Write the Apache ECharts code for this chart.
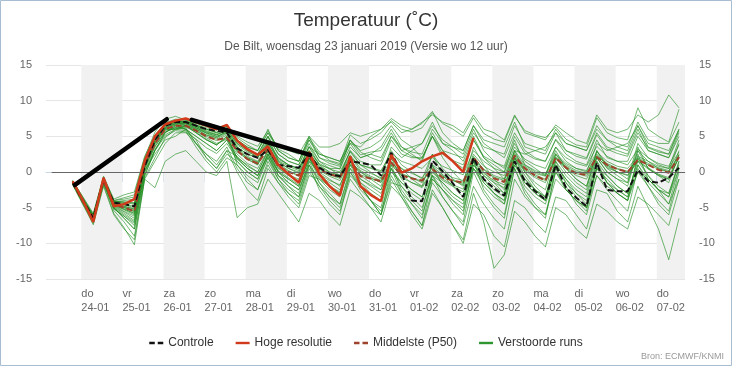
<!DOCTYPE html>
<html><head><meta charset="utf-8">
<script src="https://cdn.jsdelivr.net/npm/echarts@6/dist/echarts.min.js"></script>
<style>html,body{margin:0;padding:0;background:#fff}#c{width:732px;height:366px}</style>
</head><body><div id="c"></div>
<script>
// time axis: hours relative to 24-01 00:00 (local)
const hours = [-5,1,7,13,19,25,31,37,43,49,55,61,67,73,79,85,91,97,103,109,115,121,127,133,139,145,151,157,163,169,175,181,187,193,199,205,211,217,223,229,235,241,247,253,259,265,271,277,283,289,295,301,307,313,319,325,331,337,343,349];
const dayTicks = [0,24,48,72,96,120,144,168,192,216,240,264,288,312,336];
const dayNames = ['do','vr','za','zo','ma','di','wo','do','vr','za','zo','ma','di','wo','do'];
const dayDates = ['24-01','25-01','26-01','27-01','28-01','29-01','30-01','31-01','01-02','02-02','03-02','04-02','05-02','06-02','07-02'];
const bandStarts = [0,48,96,144,192,240,288,336];
const yTicks = [-15,-10,-5,0,5,10,15];

const controle = [-1.5,-4.0,-6.5,-1.0,-4.3,-4.5,-4.8,0.8,4.5,6.5,7.0,7.0,6.5,6.0,5.8,5.5,
 3.3,2.5,2.0,3.1,1.0,0.8,0.6,2.4,0.6,-0.3,-0.6,1.5,1.3,1.0,-0.5,2.7,
 -0.1,-4.0,-4.1,1.6,0.1,-1.6,-3.5,2.0,-1.0,-2.3,-3.3,1.5,-1.3,-2.7,-3.9,1.0,
 -2.2,-3.6,-4.8,1.3,-2.5,-2.7,-2.7,0.3,-1.3,-1.5,-0.8,0.6];
const hogeResolutie = [-1.3,-4.0,-7.0,-0.8,-4.8,-4.5,-3.8,1.5,5.0,6.7,7.2,7.5,7.0,6.5,6.0,6.6,
 4.4,3.2,2.4,3.6,1.0,-0.3,-1.5,2.8,-0.3,-2.0,-3.3,2.2,-2.0,-3.2,-4.1,2.4,
 -0.1,0.5,1.5,2.2,2.7,1.5,0.0,4.8];
const middelste = [-1.5,-4.2,-6.3,-1.2,-4.5,-5.0,-5.5,1.0,4.0,6.0,6.5,6.5,5.8,5.0,4.5,4.8,
 3.0,1.8,1.2,3.2,0.8,0.0,-0.5,2.2,0.3,-0.3,-0.7,1.7,-0.6,-0.9,-1.3,1.3,
 -0.5,-0.9,-1.2,0.4,-0.8,-1.2,-1.5,2.0,0.2,-0.9,-1.4,2.3,0.5,-0.5,-1.2,2.0,
 0.6,-0.2,-0.4,2.1,1.0,0.4,0.0,1.7,1.0,0.3,-0.1,2.1];

const run01 = [-1.2,-3.5,-5.8,-0.6,-3.8,-3.2,-2.8,2.2,5.2,6.8,7.2,7.0,6.5,6.0,5.5,6.2, 5.0,4.2,3.6,5.8, 3.2,2.5,1.5,4.8, 2.8,1.6,1.2,5.2, 4.0,4.6,5.5,7.2, 6.0,5.6,6.2,8.3, 6.8,6.0,5.0,7.6, 5.4,4.6,4.2,7.8, 5.8,5.2,4.8,6.3, 4.6,3.8,3.5,7.6, 5.5,4.8,4.5,9.0, 6.0,5.0,4.2,8.8];
const run02 = [-1.4,-4.2,-6.8,-1.0,-4.6,-5.2,-5.8,0.8,4.2,6.2,6.8,6.8,6.2,5.5,5.0,5.6, 3.2,2.0,1.4,3.5, 0.9,0.1,-0.6,2.4, 0.4,-0.4,-0.9,1.9, -0.4,-0.9,-1.4,1.4, -0.4,-0.8,-1.3,0.6, -0.6,-1.2,-1.6,2.2, 0.3,-0.7,-1.2,2.4, 0.6,-0.4,-1.0,2.1, 0.8,0.0,-0.3,2.3, 1.2,0.5,0.1,1.8, 1.0,0.4,0.0,2.3];
const run03 = [-1.5,-4.3,-6.5,-1.3,-4.4,-4.8,-5.2,1.2,4.8,6.0,6.0,6.5,5.5,4.5,3.8,5.0, 2.8,1.8,1.0,4.2, 1.6,0.8,0.2,3.6, 1.5,0.9,0.4,4.4, 2.4,2.8,3.0,5.5, 3.0,2.2,1.8,5.0, 2.5,1.6,1.0,4.5, 2.2,1.4,0.8,5.0, 2.6,1.8,1.5,4.6, 3.0,2.2,1.8,5.2, 3.2,2.6,2.2,5.5, 3.4,2.8,2.5,5.8];
const run04 = [-1.8,-4.5,-7.2,-1.8,-5.8,-7.8,-10.2,-1.0,1.5,4.0,5.5,5.5,4.0,2.5,1.5,3.5, 0.5,-1.5,-2.5,1.0, -1.5,-3.0,-4.0,0.5, -2.0,-3.5,-4.5,0.0, -2.5,-4.0,-5.5,-0.5, -3.0,-4.5,-6.0,-1.5, -3.5,-5.5,-7.5,-2.0, -4.5,-6.5,-8.0,-1.0, -3.5,-5.0,-6.5,0.5, -2.5,-4.0,-5.0,1.5, -1.5,-3.0,-4.0,2.5, -1.0,-2.5,-3.5,1.5];
const run05 = [-1.6,-4.0,-6.0,-1.5,-5.0,-6.5,-8.0,-0.5,3.0,5.5,6.5,6.0,5.0,4.0,3.0,4.5, 1.5,0.0,-1.0,2.5, -0.5,-2.0,-3.0,1.5, -1.5,-3.0,-4.5,0.5, -2.0,-4.0,-6.0,-1.0, -3.5,-5.5,-7.5,-2.5, -5.0,-7.5,-9.5,-3.0, -7.0,-13.5,-11.6,-5.5, -7.0,-9.0,-10.5,-5.0, -6.0,-8.0,-9.3,-4.5, -5.5,-7.0,-8.0,-3.5, -4.5,-6.0,-7.5,-2.5];
const run06 = [-1.7,-4.1,-6.6,-1.1,-4.9,-5.8,-6.8,0.2,2.5,4.5,5.0,6.0,4.5,2.0,0.5,3.0, 0.0,-2.5,-4.0,0.5, -1.5,-3.5,-5.0,-0.5, -1.0,-2.5,-3.5,1.0, -0.5,-1.5,-2.5,2.0, 0.5,-1.0,-2.0,2.5, -0.5,-2.0,-3.5,1.5, -1.5,-3.0,-4.5,1.0, -1.0,-2.5,-3.5,2.0, 0.0,-1.5,-2.5,3.0, 0.5,-0.5,-1.5,3.5, 0.5,-0.5,-1.0,3.0];
const run07 = [-1.4,-4.1,-6.7,-0.9,-4.5,-5.0,-5.5,1.0,4.5,6.5,7.0,7.2,6.5,6.0,5.5,6.0, 4.0,3.0,2.5,5.0, 2.5,1.5,1.0,4.0, 1.5,0.5,-0.5,3.0, 1.0,0.0,-1.0,3.5, 2.0,3.0,4.0,6.5, 4.5,3.5,2.5,6.0, 3.0,1.5,0.5,4.0, 1.5,0.5,-0.5,3.0, 0.5,-1.0,-2.0,2.0, 0.0,-1.0,-1.5,3.0, 1.5,0.5,0.0,4.0];
const run08 = [-1.6,-4.0,-6.0,-1.5,-5.0,-6.5,-8.0,-0.5,3.0,5.5,6.5,6.0,5.0,4.0,3.0,4.5, 2.0,1.0,0.0,3.0, 0.0,-1.0,-2.0,2.0, -0.5,-2.0,-3.0,1.5, -1.5,-3.0,-4.0,0.5, -2.0,-3.5,-5.0,-0.5, -2.5,-4.0,-5.5,0.5, -1.5,-3.0,-4.0,1.5, -2.0,-3.5,-4.5,0.0, -2.5,-4.0,-5.0,-0.5, -2.0,-3.0,-4.0,1.0, -1.5,-3.0,-4.5,0.5];
const run09 = [-1.2,-3.6,-6.0,-0.7,-4.0,-3.8,-3.5,1.8,4.8,6.6,7.0,6.5,6.0,5.2,4.8,5.8, 3.5,2.5,2.0,4.5, 2.0,1.0,0.5,3.5, 2.5,2.0,1.5,4.5, 3.0,3.5,4.5,6.5, 4.5,3.5,2.0,5.0, 2.0,0.0,-1.5,3.5, 1.0,-1.0,-2.5,3.0, 2.5,3.0,3.5,5.5, 4.0,3.5,3.0,6.0, 4.5,3.5,3.0,6.5, 4.0,3.5,3.0,6.0];
const run10 = [-1.5,-4.3,-6.5,-1.3,-4.4,-4.8,-5.2,1.2,4.8,6.0,6.0,6.5,5.5,4.5,3.8,5.0, 2.0,0.5,-0.5,2.5, 0.0,-1.5,-2.5,1.5, 0.0,-1.0,-2.0,2.0, 1.0,0.5,0.0,3.0, 1.0,0.0,-1.0,2.5, 0.5,-1.0,-2.0,2.0, 0.0,-1.5,-3.0,2.0, -0.5,-2.5,-4.0,1.0, -1.0,-3.0,-4.5,0.5, -0.5,-2.0,-3.0,1.5, -0.5,-2.5,-4.5,-1.0];
const run11 = [-1.4,-4.2,-6.8,-1.0,-4.6,-5.2,-5.8,0.8,4.2,6.2,6.8,6.8,6.2,5.5,5.0,5.6, 1.0,-1.0,-2.5,1.5, -1.0,-3.0,-4.5,0.0, -2.0,-4.0,-5.5,-1.0, -3.0,-5.0,-7.0,-2.0, -3.5,-6.0,-8.0,-3.0, -5.0,-7.5,-10.0,-4.5, -6.0,-9.0,-10.5,-4.0, -5.0,-7.0,-8.5,-3.5, -4.0,-6.0,-8.0,-2.5, -3.0,-5.5,-7.0,-2.0, -5.0,-8.0,-12.3,-6.5];
const run12 = [-1.3,-3.7,-6.0,-0.8,-4.2,-4.0,-3.8,1.5,4.8,6.6,7.0,7.0,6.8,6.4,6.0,6.4, 4.5,3.5,3.0,5.5, 3.5,3.0,2.5,5.0, 3.5,3.5,4.0,5.5, 5.0,5.5,6.0,7.5, 6.5,6.0,7.0,8.0, 7.0,6.5,5.5,8.0, 6.0,5.5,4.5,8.0, 5.5,5.0,4.5,6.6, 5.5,4.5,4.0,8.0, 6.0,5.5,6.0,8.0, 7.0,8.0,10.8,9.0];
const run13 = [-1.5,-4.1,-6.4,-1.2,-4.7,-5.5,-6.2,0.5,3.8,5.8,6.3,6.5,5.8,4.8,4.0,4.6, 2.5,1.2,0.5,3.0, 0.5,-0.5,-1.2,2.0, -0.3,-1.2,-1.8,1.2, -1.0,-1.8,-2.5,1.0, -0.5,-1.5,-2.2,0.0, -1.2,-2.0,-2.8,1.5, -0.5,-1.5,-2.2,2.0, 0.2,-0.8,-1.5,1.8, 0.5,-0.5,-1.0,2.0, 0.8,0.0,-0.5,1.5, 0.6,-0.3,-0.8,2.0];
const run14 = [-1.4,-4.0,-6.3,-1.1,-4.3,-4.6,-5.0,1.3,4.5,6.4,6.9,6.9,6.4,5.7,5.2,5.9, 3.8,2.8,2.2,4.2, 1.8,1.0,0.4,3.0, 1.2,0.4,0.0,2.8, 1.0,0.6,0.2,2.6, 1.5,1.0,0.5,2.0, 0.8,0.2,-0.4,3.0, 1.5,0.5,0.0,3.5, 1.8,1.0,0.5,3.5, 2.0,1.2,0.8,3.6, 2.2,1.5,1.0,3.2, 2.0,1.2,0.8,3.8];
const run15 = [-1.7,-4.4,-7.0,-1.5,-5.4,-7.0,-9.0,-0.8,2.0,4.8,6.0,5.8,3.5,1.5,0.0,2.0, 1.0,-0.5,-1.5,2.0, -1.0,-2.5,-3.5,1.0, -2.5,-4.5,-6.0,0.0, -2.0,-4.0,-5.0,1.0, -2.5,-4.5,-6.5,-0.5, -3.5,-5.5,-7.0,0.0, -3.0,-5.0,-6.5,0.5, -2.5,-4.5,-6.0,0.0, -2.0,-4.5,-6.0,-0.5, -2.5,-4.0,-5.5,0.5, -2.0,-4.0,-5.5,0.0];
const run16 = [-1.3,-3.9,-6.4,-0.9,-4.1,-4.2,-4.4,1.6,5.0,6.9,7.4,7.3,6.6,6.2,5.9,6.4, 4.8,3.8,3.0,6.0, 3.0,2.0,1.5,5.0, 2.0,1.5,1.0,4.0, 2.0,2.5,3.5,6.0, 3.5,2.5,1.5,5.5, 3.0,1.5,0.5,4.5, 2.0,0.5,-1.0,3.0, 0.0,-2.0,-3.5,1.5, -1.5,-3.5,-5.0,0.5, -1.0,-2.5,-3.5,2.0, -0.5,-2.0,-3.0,1.5];
const run17 = [-1.5,-4.2,-6.6,-1.2,-4.5,-5.0,-5.6,0.9,4.0,6.0,6.6,6.4,5.8,5.0,4.4,5.2, 3.0,1.8,1.0,3.8, 1.2,0.2,-0.5,2.6, 0.8,0.0,-0.5,2.4, 0.5,-0.2,-0.8,1.8, 0.5,-0.2,-0.8,1.0, 0.0,-0.8,-1.2,2.5, 0.8,0.0,-0.5,3.0, 1.0,0.2,-0.3,2.6, 1.2,0.5,0.2,2.8, 1.5,0.8,0.5,2.2, 1.5,0.8,0.5,2.8];
const run18 = [-1.6,-4.3,-6.9,-1.4,-5.2,-6.2,-7.2,0.0,3.2,5.2,6.0,6.2,4.0,2.0,0.5,2.5, 1.5,0.0,-1.0,2.0, -0.5,-2.0,-3.5,1.0, -1.5,-3.5,-5.0,-0.5, -2.0,-4.0,-6.0,0.5, -3.0,-5.5,-7.5,-1.0, -2.5,-4.5,-6.0,1.0, -1.0,-3.0,-4.0,2.0, 0.0,-1.5,-2.5,2.5, 0.5,-1.0,-2.0,3.0, 1.0,0.0,-1.0,4.0, 2.0,1.0,0.5,4.5];
const run19 = [-1.3,-3.8,-6.2,-0.9,-4.0,-3.6,-3.2,2.0,5.6,7.4,7.8,7.3,6.9,6.6,6.2,6.6, 4.5,3.5,3.0,5.5, 3.0,2.0,1.5,4.5, 2.5,2.0,1.5,4.0, 3.5,5.0,6.0,7.0, 5.5,6.0,6.8,8.5, 5.5,4.0,3.0,6.5, 4.0,3.0,2.0,5.5, 3.0,2.0,1.5,4.5, 2.5,1.5,1.0,4.5, 2.0,1.5,1.5,5.0, 3.0,2.5,2.0,5.5];
const run20 = [-1.5,-4.2,-6.6,-1.2,-4.8,-5.6,-6.5,0.6,3.6,5.6,6.2,6.3,5.6,4.6,3.8,4.8, 2.0,0.5,-0.5,2.5, 0.0,-1.0,-2.0,2.0, -0.5,-1.5,-2.5,1.5, 0.0,-1.0,-2.0,2.0, -1.0,-2.5,-3.5,1.0, -2.0,-3.5,-4.5,1.5, -2.5,-4.5,-6.0,0.5, -3.0,-5.0,-6.0,-1.0, -2.5,-4.0,-5.5,1.0, -1.5,-3.0,-4.0,0.0, -2.0,-4.5,-6.0,-1.0];
const run21 = [-1.8,-4.6,-7.4,-2.0,-6.0,-8.0,-9.5,-1.0,-2.2,1.5,2.5,3.0,1.5,0.0,-0.5,1.5, -6.4,-5.0,-4.5,-1.0, -3.0,-5.0,-7.0,-3.0, -4.0,-6.0,-7.5,-2.5, -3.5,-5.0,-6.0,-1.5, -2.0,-4.0,-5.5,0.0, -1.5,-3.0,-4.0,1.0, -0.5,-2.0,-3.0,2.0, -1.0,-2.5,-3.5,1.5, -0.5,-2.0,-3.0,2.0, 0.0,-1.0,-2.0,3.0, 0.5,-0.5,-1.5,2.5];
const run22 = [-1.4,-4.0,-6.4,-1.0,-4.3,-4.5,-4.8,1.4,4.6,6.5,7.0,7.0,6.3,5.6,5.2,5.8, 3.5,2.5,2.0,4.0, 2.0,1.0,0.5,3.5, 1.0,0.0,-0.5,3.0, 1.5,1.0,1.0,4.5, 2.5,2.0,2.0,5.0, 3.0,2.5,2.0,5.5, 3.5,3.0,2.5,6.5, 4.0,3.5,3.0,6.0, 4.0,3.5,3.0,6.5, 4.5,4.0,3.5,7.0, 4.5,4.0,4.0,7.0];
const run23 = [-1.6,-4.2,-6.7,-1.3,-5.0,-6.0,-7.0,0.3,3.5,5.6,6.2,6.0,4.0,2.5,1.0,3.0, 2.2,0.8,0.0,2.8, 0.2,-0.8,-1.8,1.8, -0.8,-2.0,-2.8,1.0, -1.5,-2.5,-3.5,0.0, -1.5,-3.0,-4.0,-1.0, -2.5,-4.0,-5.0,0.5, -1.0,-2.5,-3.5,1.5, -1.5,-3.0,-4.0,1.0, -1.0,-2.5,-3.5,1.5, -0.5,-2.0,-3.0,1.0, -1.0,-2.5,-3.0,1.0];
const run24 = [-1.3,-3.9,-6.3,-0.8,-4.2,-4.3,-4.5,1.5,4.9,6.7,7.1,6.9,6.4,5.8,5.3,6.0, 4.0,3.0,2.0,5.0, 1.5,0.5,0.0,3.0, 1.0,0.5,0.5,3.5, 2.0,2.5,2.0,5.0, 3.0,3.5,4.0,7.0, 4.0,3.0,1.5,5.0, 2.0,1.0,0.0,4.5, 1.0,0.0,-0.5,3.5, 1.5,0.5,0.0,4.0, 3.0,3.5,4.0,6.5, 3.5,3.0,2.5,6.0];
const run25 = [-1.5,-4.1,-6.5,-1.2,-4.6,-5.3,-6.0,0.7,4.0,6.1,6.6,6.6,6.0,5.2,4.6,5.4, 3.4,2.2,1.5,3.8, 1.4,0.5,-0.2,2.8, 0.6,-0.2,-0.8,2.2, 0.2,-0.6,-1.2,1.5, -0.2,-0.8,-1.5,0.8, -0.4,-1.2,-1.8,2.0, 0.4,-0.5,-1.0,2.6, 0.8,-0.2,-0.6,2.4, 1.0,0.2,-0.2,2.5, 1.0,0.4,0.0,2.0, 1.2,0.6,0.2,2.4];
const run26 = [-1.4,-4.0,-6.4,-1.1,-4.4,-4.9,-5.4,1.0,4.4,6.3,6.7,6.7,6.1,5.4,4.8,5.5, 3.0,2.0,1.2,3.5, 0.6,-0.4,-1.0,2.0, 0.2,-0.6,-1.2,1.6, 0.0,-0.8,-1.5,1.2, -0.8,-1.5,-2.0,0.2, -1.0,-1.8,-2.4,1.6, -0.2,-1.2,-1.8,2.2, 0.4,-0.6,-1.2,2.0, 0.6,-0.2,-0.6,2.2, 0.6,0.0,-0.4,1.6, 0.4,-0.4,-1.0,2.0];
const run27 = [-1.3,-3.8,-6.2,-0.9,-4.1,-4.2,-4.3,1.6,5.0,6.8,7.2,7.1,6.6,6.0,5.6,6.2, 4.2,3.2,2.5,5.0, 2.5,1.5,1.0,4.5, 2.0,1.2,0.8,4.5, 2.8,2.0,1.5,5.0, 3.5,2.8,2.5,6.0, 4.0,3.5,3.0,6.5, 4.5,4.0,3.5,7.0, 3.5,3.0,2.5,5.5, 3.0,2.5,2.0,5.5, 3.5,3.0,2.5,6.0, 3.0,2.5,2.0,5.0];
const run28 = [-1.6,-4.3,-6.8,-1.4,-5.1,-6.2,-7.5,0.0,3.0,5.0,5.8,5.6,4.6,3.4,2.6,4.0, 1.8,0.5,-0.5,2.2, -0.5,-1.5,-2.5,1.0, -1.0,-2.0,-3.0,0.5, -1.0,-2.0,-3.0,0.5, -1.5,-2.5,-3.5,-0.5, -1.5,-3.0,-4.0,0.5, -2.0,-3.5,-4.5,1.0, -1.5,-3.0,-4.0,0.5, -1.5,-3.0,-4.0,0.5, -1.5,-2.5,-3.5,0.0, -1.0,-2.5,-3.5,0.5];
const verstoordeRuns = [run01,run02,run03,run04,run05,run06,run07,run08,run09,run10,run11,run12,run13,run14,run15,run16,run17,run18,run19,run20,run21,run22,run23,run24,run25,run26,run27,run28];

// hand-drawn trend annotation (hours, degrees)
const annotA = [[-3.7,-1.8],[49.9,7.4]];
const annotB = [[64.5,7.3],[133.5,2.4]];

const xMin = -20.6, xMax = 352.5, zeroStart = -17.3;
const FONT = "'Liberation Sans', Arial, sans-serif";
const ICON_SOLID = 'path://M0,0h14v2.4h-14z';
const ICON_DASH = 'path://M0,0h5.5v2.4h-5.5z M8.5,0h5.5v2.4h-5.5z';

function pair(arr){ return arr.map((v,i)=>[hours[i], v]); }

const chart = echarts.init(document.getElementById('c'), null, {renderer:'canvas'});
const series = [];
series.push({
  type:'line', name:'_bg', data:[[xMin,null]], symbol:'none', silent:true,
  markArea:{silent:true, itemStyle:{color:'#f1f1f1'}, data: bandStarts.map(s=>[{xAxis:s},{xAxis:Math.min(s+24,xMax)}])}
});
verstoordeRuns.forEach(r=>{
  series.push({type:'line', name:'Verstoorde runs', data:pair(r), symbol:'none', silent:true,
    color:'#2e962e', lineStyle:{color:'rgba(30,140,30,0.62)', width:1}, emphasis:{disabled:true}, z:2});
});
series.push({type:'line', name:'_zero', data:[[xMin,null]], symbol:'none', silent:true,
  markLine:{silent:true, symbol:'none', label:{show:false}, lineStyle:{color:'#666', width:1, type:'solid'},
    data:[[{coord:[zeroStart,0]},{coord:[xMax,0]}]]}, z:3});
series.push({type:'line', name:'Middelste (P50)', data:pair(middelste), symbol:'none', silent:true,
  color:'#a0432c', lineStyle:{color:'#a0432c', width:2, type:[6,3]}, emphasis:{disabled:true}, z:4});
series.push({type:'line', name:'Controle', data:pair(controle), symbol:'none', silent:true,
  color:'#111', lineStyle:{color:'#111', width:2, type:[6,3]}, emphasis:{disabled:true}, z:5});
series.push({type:'line', name:'Hoge resolutie', data:pair(hogeResolutie), symbol:'none', silent:true,
  color:'#d23a1c', lineStyle:{color:'#d23a1c', width:2.5}, emphasis:{disabled:true}, z:6});
[annotA, annotB].forEach((a,i)=>{
  series.push({type:'line', name:'_annot'+i, data:a, symbol:'none', silent:true,
    lineStyle:{color:'#000', width:4.5, cap:'round'}, emphasis:{disabled:true}, z:7});
});

chart.setOption({
  animation:false,
  backgroundColor:'#fff',
  textStyle:{fontFamily:FONT},
  title:[
    {text:'Temperatuur (˚C)', left:'center', top:6, textStyle:{fontFamily:FONT, fontSize:19, fontWeight:'normal', color:'#333'}},
    {text:'De Bilt, woensdag 23 januari 2019 (Versie wo 12 uur)', left:'center', top:36, textStyle:{fontFamily:FONT, fontSize:12, fontWeight:'normal', color:'#555'}}
  ],
  legend:{
    top:332, left:'center', itemWidth:14, itemHeight:2.4, itemGap:22, symbolKeepAspect:false,
    textStyle:{fontFamily:FONT, fontSize:12, color:'#333'},
    data:[
      {name:'Controle', icon:ICON_DASH, itemStyle:{color:'#111'}},
      {name:'Hoge resolutie', icon:ICON_SOLID, itemStyle:{color:'#d23a1c'}},
      {name:'Middelste (P50)', icon:ICON_DASH, itemStyle:{color:'#a0432c'}},
      {name:'Verstoorde runs', icon:ICON_SOLID, itemStyle:{color:'#2e962e'}}
    ]
  },
  grid:{left:46, right:47, top:65, bottom:87, containLabel:false},
  xAxis:{
    type:'value', min:xMin, max:xMax,
    axisLine:{show:true, lineStyle:{color:'#ccd6eb'}},
    axisTick:{show:true, customValues:dayTicks, length:10, lineStyle:{color:'#ccd6eb'}},
    splitLine:{show:false},
    axisLabel:{customValues:dayTicks, align:'left', margin:8, color:'#666', fontSize:11, lineHeight:14, fontFamily:FONT,
      formatter:(v)=>{ const i = dayTicks.indexOf(v); return i<0 ? '' : dayNames[i]+'\n'+dayDates[i]; }}
  },
  yAxis:[
    {type:'value', min:-15, max:15, interval:5, position:'left',
      axisLine:{show:false}, axisTick:{show:false},
      splitLine:{lineStyle:{color:'#e6e6e6', width:1}},
      axisLabel:{margin:14, color:'#666', fontSize:11, fontFamily:FONT}},
    {type:'value', min:-15, max:15, interval:5, position:'right',
      axisLine:{show:false}, axisTick:{show:false}, splitLine:{show:false},
      axisLabel:{margin:14, color:'#666', fontSize:11, fontFamily:FONT}}
  ],
  graphic:[
    {type:'rect', shape:{x:0.5, y:0.5, width:731, height:365}, style:{fill:'none', stroke:'#a9bdd0', lineWidth:1}, silent:true},
    {type:'text', right:8, top:352, style:{text:'Bron: ECMWF/KNMI', fill:'#999', fontSize:9, fontFamily:FONT}, silent:true}
  ],
  series: series
});
</script></body></html>
